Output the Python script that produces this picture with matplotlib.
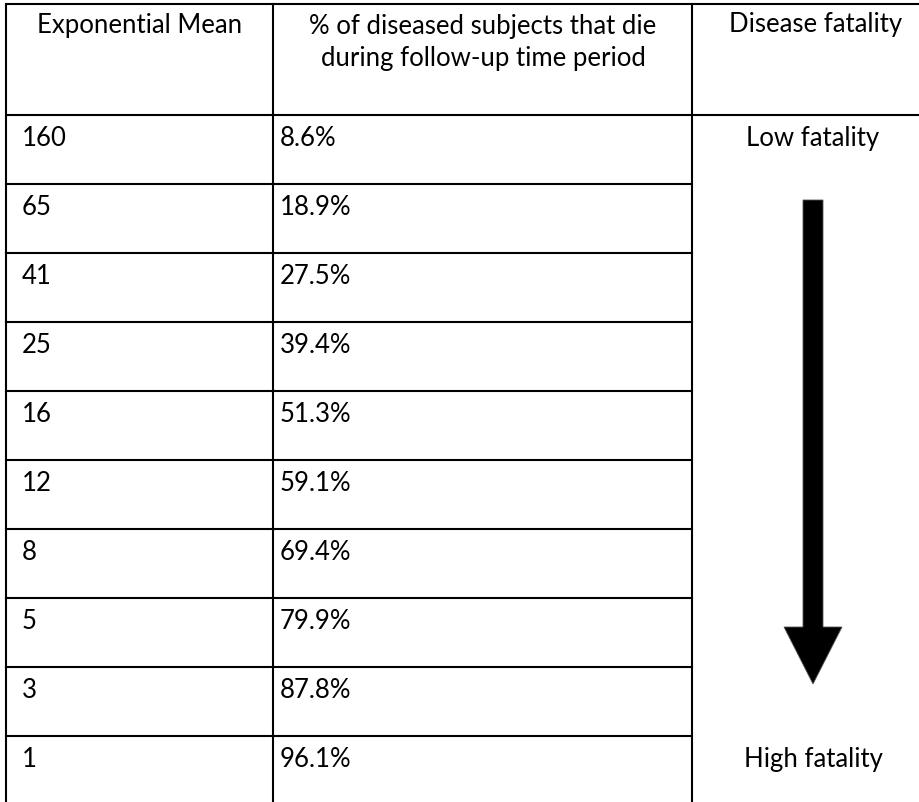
import matplotlib.pyplot as plt
from matplotlib.patches import FancyArrow

# table contents
headers = ["Exponential Mean", "% of diseased subjects that die", "during follow-up time period", "Disease fatality"]
means = ["160", "65", "41", "25", "16", "12", "8", "5", "3", "1"]
pct_die = ["8.6%", "18.9%", "27.5%", "39.4%", "51.3%", "59.1%", "69.4%", "79.9%", "87.8%", "96.1%"]
fatality_top = "Low fatality"
fatality_bottom = "High fatality"

W, H = 919, 803
fig = plt.figure(figsize=(W / 100, H / 100), dpi=100)
ax = fig.add_axes([0, 0, 1, 1])
ax.set_xlim(0, W)
ax.set_ylim(H, 0)
ax.axis('off')

plt.rcParams['font.family'] = ['Lato', 'DejaVu Sans']
fs = 18.5
lw = 1.5

# grid geometry (pixels)
x_left, x_c1, x_c2, x_right = 6, 273, 692, 919
y_top, y_head = 5, 116
row_h = 69.0

# outer/header lines
ax.plot([x_left, x_right], [y_top, y_top], color='black', lw=lw, solid_capstyle='butt')
ax.plot([x_left, x_right], [y_head, y_head], color='black', lw=lw, solid_capstyle='butt')
for x in (x_left, x_c1, x_c2):
    ax.plot([x, x], [y_top, H], color='black', lw=lw)

# row lines in first two columns only
for i in range(1, len(means)):
    y = y_head + i * row_h
    ax.plot([x_left, x_c2], [y, y], color='black', lw=lw)

# header text
ax.text((x_left + x_c1) / 2, 33, headers[0], ha='center', va='baseline', fontsize=fs)
ax.text(483, 34, headers[1], ha='center', va='baseline', fontsize=fs)
ax.text(483, 66, headers[2], ha='center', va='baseline', fontsize=fs)
ax.text(816, 32, headers[3], ha='center', va='baseline', fontsize=fs)

# rows
for i, (m, p) in enumerate(zip(means, pct_die)):
    yb = y_head + i * row_h + 30
    ax.text(22, yb, m, ha='left', va='baseline', fontsize=fs)
    ax.text(280, yb, p, ha='left', va='baseline', fontsize=fs)

ax.text(813, y_head + 30, fatality_top, ha='center', va='baseline', fontsize=fs)
ax.text(813, y_head + 9 * row_h + 30, fatality_bottom, ha='center', va='baseline', fontsize=fs)

# big down arrow
arr = FancyArrow(813, 201, 0, 685 - 201, width=20, head_width=58, head_length=57,
                 length_includes_head=True, color='black', ec='#555555', lw=0.6)
ax.add_patch(arr)

fig.savefig('out.png', dpi=100, facecolor='white')
